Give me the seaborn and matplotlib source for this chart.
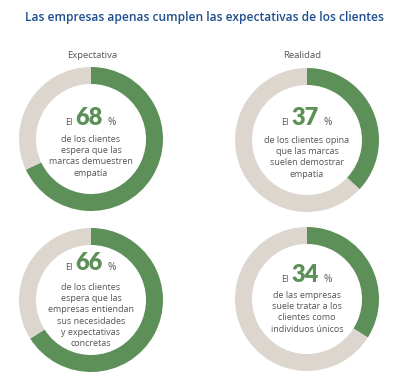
import matplotlib
matplotlib.use("Agg")
import matplotlib.pyplot as plt
import seaborn as sns

sns.set_theme(style="white")
plt.rcParams['font.family'] = ['Open Sans', 'DejaVu Sans']

title = "Las empresas apenas cumplen las expectativas de los clientes"
column_labels = ["Expectativa", "Realidad"]
values = [68, 37, 66, 34]
descriptions = [
    "de los clientes\nespera que las\nmarcas demuestren\nempatía",
    "de los clientes opina\nque las marcas\nsuelen demostrar\nempatía",
    "de los clientes\nespera que las\nempresas entiendan\nsus necesidades\ny expectativas\nconcretas",
    "de las empresas\nsuele tratar a los\nclientes como\nindividuos únicos",
]

GREEN = "#5d9058"
GRAY = "#ddd6cf"
TITLE_C = "#1f4f8e"
TEXT_C = "#555555"

W, H = 414, 386
fig = plt.figure(figsize=(W / 100, H / 100), dpi=100)
fig.patch.set_facecolor("white")

fig.text(204 / W, 1 - 17 / H, title, ha="center", va="center",
         fontsize=8.65, fontweight="semibold", color=TITLE_C)
fig.text(92 / W, 1 - 55 / H, column_labels[0], ha="center", va="center",
         fontsize=6.8, color=TEXT_C)
fig.text(302 / W, 1 - 55 / H, column_labels[1], ha="center", va="center",
         fontsize=6.8, color=TEXT_C)

# layout: centers (px) and text offsets
centers = [(91, 139), (307, 140), (91, 300), (307, 299)]
head_base = [14, 15, 30, 17]   # headline baseline above center (px)
desc_top = [4, 4, 17, 8]      # description top relative to center (px)

half = 80
for i, v in enumerate(values):
    cx, cy = centers[i]
    ax = fig.add_axes([(cx - half) / W, 1 - (cy + half) / H, 2 * half / W, 2 * half / H])
    ax.pie([v, 100 - v], startangle=90, counterclock=False, colors=[GREEN, GRAY],
           radius=72, wedgeprops=dict(width=17, edgecolor="none"))
    ax.set_xlim(-half, half)
    ax.set_ylim(-half, half)
    ax.set_aspect("equal")
    ax.axis("off")

    yb = head_base[i]
    num = ax.text(-2, yb, f"{v}", ha="center", va="baseline", fontsize=17,
                  fontweight="heavy", color=GREEN, family=["Lato", "DejaVu Sans"])
    ax.annotate("El", xy=(0, yb), xycoords=(num, "data"), xytext=(-2.2, 0),
                textcoords="offset points", ha="right", va="baseline",
                fontsize=6.6, color=TEXT_C)
    ax.annotate("%", xy=(1, yb), xycoords=(num, "data"), xytext=(3.2, 0),
                textcoords="offset points", ha="left", va="baseline",
                fontsize=7.3, color=TEXT_C)
    ax.text(0, desc_top[i], descriptions[i], ha="center", va="top", fontsize=6.5,
            color=TEXT_C, linespacing=1.32)

fig.savefig("out.png", dpi=100, facecolor="white")
